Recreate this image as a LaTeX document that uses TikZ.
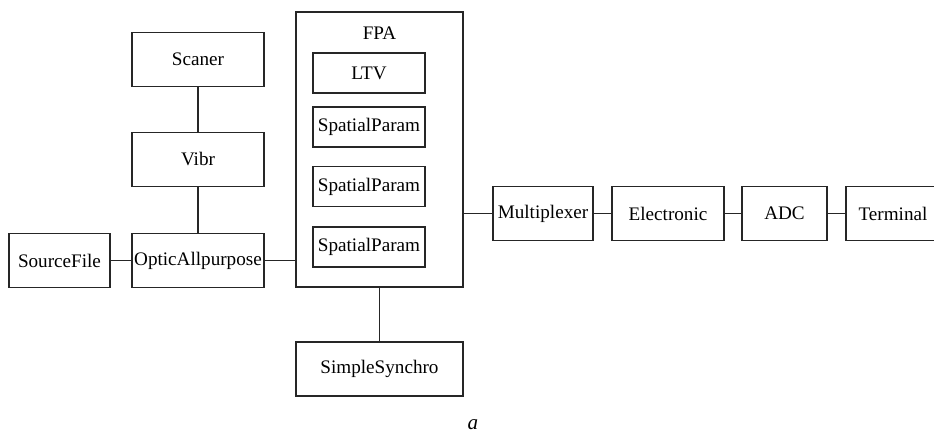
\documentclass[tikz,border=0pt]{standalone}
\usepackage{fontspec}
\setmainfont{Liberation Serif}
\begin{document}
\begin{tikzpicture}[x=0.02cm,y=-0.02cm,
  block/.style={draw=black!85,line width=0.8pt,minimum width=2.64cm,minimum height=1.08cm,inner sep=0pt,font=\fontsize{10.9}{13}\selectfont},
  inblock/.style={block,minimum width=2.24cm,minimum height=0.8cm},
  link/.style={draw=black!85,line width=0.8pt}]
\useasboundingbox (0,0) rectangle (934,435);
\clip (0,0) rectangle (934,435);
% Left column
\node[block] (scaner) at (198,59.5) {Scaner};
\node[block] (vibr) at (198,159.5) {Vibr};
\node[block] (optic) at (198,260.5) {OpticAllpurpose};
\node[block,minimum width=2.02cm] (source) at (59.5,260.5) {SourceFile};

% Focal plane array
\node[block,minimum width=3.34cm,minimum height=5.5cm] (fpa) at (379.5,149.5) {};
\node[font=\fontsize{10.9}{13}\selectfont] (fpalabel) at (379.5,33) {FPA};
\node[inblock] (ltv) at (369,73) {LTV};
\node[inblock] (sp1) at (369,127) {SpatialParam};
\node[inblock] (sp2) at (369,186.5) {SpatialParam};
\node[inblock] (sp3) at (369,247) {SpatialParam};
\node[block,minimum width=3.34cm] (synchro) at (379.5,369) {SimpleSynchro};

% Output chain
\node[block,minimum width=2.0cm] (mux) at (543,213.5) {Multiplexer};
\node[block,minimum width=2.24cm] (elec) at (668,213.5) {Electronic};
\node[block,minimum width=1.7cm] (adc) at (784.5,213.5) {ADC};
\node[block,minimum width=1.88cm] (term) at (893,213.5) {Terminal};

% Connections
\draw[link] (scaner) -- (vibr);
\draw[link] (vibr) -- (optic);
\draw[link] (source) -- (optic);
\draw[link] (optic.east) -- (optic.east -| fpa.west);
\draw[link] (fpa.east |- mux.west) -- (mux.west);
\draw[link] (mux) -- (elec);
\draw[link] (elec) -- (adc);
\draw[link] (adc) -- (term);
\draw[link] (fpa.south -| synchro.north) -- (synchro.north);

\node[font=\fontsize{12}{14}\selectfont\itshape] (caption) at (473,425) {a};
\end{tikzpicture}
\end{document}
